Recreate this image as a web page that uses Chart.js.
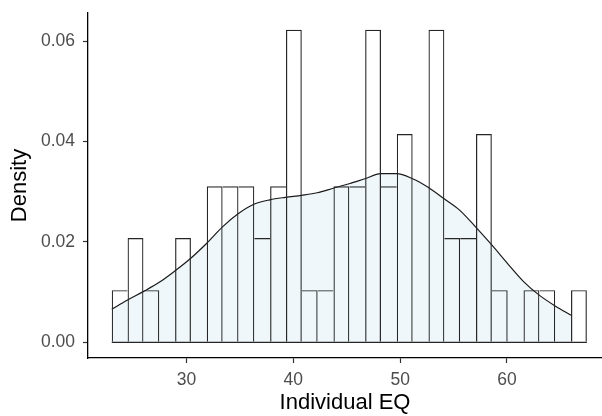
<!DOCTYPE html>
<html>
<head>
<meta charset="utf-8">
<script src="https://cdn.jsdelivr.net/npm/chart.js@4"></script>
<style>
  html, body { margin: 0; padding: 0; background: #fff; }
  #wrap { width: 602px; height: 416px; }
</style>
</head>
<body>
<div id="wrap"><canvas id="hist" width="602" height="416"></canvas></div>
<script>
// ヒストグラム（30ビン）の中心と密度
const binCenters = [23.741, 25.224, 26.707, 28.190, 29.672, 31.155, 32.638, 34.121, 35.603, 37.086,
  38.569, 40.052, 41.534, 43.017, 44.500, 45.983, 47.466, 48.948, 50.431, 51.914,
  53.397, 54.879, 56.362, 57.845, 59.328, 60.810, 62.293, 63.776, 65.259, 66.741];
const barDensity = [0.0104, 0.0208, 0.0104, 0, 0.0208, 0, 0.0311, 0.0311, 0.0311, 0.0208,
  0.0311, 0.0623, 0.0104, 0.0104, 0.0311, 0.0311, 0.0623, 0.0311, 0.0415, 0,
  0.0623, 0.0208, 0.0208, 0.0415, 0.0104, 0, 0.0104, 0.0104, 0, 0.0104];

// 密度曲線
const curveX = [23.0, 24.44, 25.94, 27.41, 28.9, 30.37, 31.87, 33.37, 34.83, 36.3,
  37.8, 39.27, 40.77, 42.23, 43.73, 45.23, 46.7, 48.19, 49.66, 51.16,
  52.62, 54.12, 55.59, 57.06, 58.62, 60.06, 61.56, 63.02, 64.55, 66.0];
const curveY = [0.0066, 0.0084, 0.0101, 0.0119, 0.0142, 0.0167, 0.0197, 0.0230, 0.0256, 0.0275,
  0.0284, 0.0289, 0.0293, 0.0298, 0.0307, 0.0316, 0.0326, 0.0336, 0.0336, 0.0326,
  0.0309, 0.0286, 0.0263, 0.0230, 0.0193, 0.0157, 0.0121, 0.0094, 0.0072, 0.0054];

const binEdges = [23.0, 67.483];
const xTicks = [30, 40, 50, 60];
const yTicks = [0, 0.02, 0.04, 0.06];

const tickColor = "#4d4d4d";
const fontFamily = "'Liberation Sans', Arial, sans-serif";

const ctx = document.getElementById("hist").getContext("2d");

new Chart(ctx, {
  data: {
    datasets: [
      {
        type: "bar",
        data: binCenters.map((x, i) => ({ x, y: barDensity[i] })),
        backgroundColor: "rgba(0,0,0,0)",
        borderColor: "#262626",
        // 隣り合う辺は高い方のビンだけが描く（線が二重にならないように）
        borderWidth: (c) => {
          const i = c.dataIndex;
          const h = barDensity[i];
          const prev = i === 0 ? 0 : barDensity[i - 1];
          const next = i === barDensity.length - 1 ? 0 : barDensity[i + 1];
          return { top: 1.2, bottom: 0, left: prev < h ? 1.2 : 0, right: next <= h ? 1.2 : 0 };
        },
        borderSkipped: false,
        inflateAmount: 0,
        barPercentage: 1,
        categoryPercentage: 1,
        order: 1,
      },
      {
        type: "line",
        data: curveX.map((x, i) => ({ x, y: curveY[i] })),
        borderColor: "#1a1a1a",
        borderWidth: 1.2,
        backgroundColor: "rgba(173,216,230,0.2)",
        fill: "origin",
        pointRadius: 0,
        cubicInterpolationMode: "monotone",
        order: 2,
      },
      {
        // ゼロのビンも含めた底辺
        type: "line",
        data: binEdges.map((x) => ({ x, y: 0 })),
        borderColor: "#262626",
        borderWidth: 1.2,
        pointRadius: 0,
        fill: false,
        order: 0,
      },
    ],
  },
  options: {
    responsive: false,
    animation: false,
    devicePixelRatio: 1,
    layout: { padding: { top: 13, right: 0, bottom: 0, left: 0 } },
    plugins: {
      legend: { display: false },
      tooltip: { enabled: false },
    },
    scales: {
      x: {
        type: "linear",
        offset: false,
        min: 20.776,
        max: 68.9,
        afterBuildTicks: (s) => { s.ticks = xTicks.map((v) => ({ value: v })); },
        afterFit: (s) => {
          s.height = 58;
          s.paddingLeft = 0;
          s.paddingRight = 0;
        },
        grid: { offset: false, drawOnChartArea: false, drawTicks: true, tickLength: 5, tickColor: "#333", tickWidth: 1.2 },
        border: { display: true, color: "#000", width: 1.3 },
        ticks: {
          color: tickColor,
          font: { family: fontFamily, size: 17.5 },
          padding: 7,
          maxRotation: 0,
        },
        title: {
          display: true,
          text: "Individual EQ",
          color: "#000",
          font: { family: fontFamily, size: 22 },
          padding: { top: 0, bottom: 0 },
        },
      },
      y: {
        type: "linear",
        min: -0.003125,
        max: 0.065625,
        afterBuildTicks: (s) => { s.ticks = yTicks.map((v) => ({ value: v })); },
        afterFit: (s) => {
          s.width = 88;
          s.paddingTop = 0;
          s.paddingBottom = 0;
        },
        grid: { drawOnChartArea: false, drawTicks: true, tickLength: 5, tickColor: "#333", tickWidth: 1.2 },
        border: { display: true, color: "#000", width: 1.3 },
        ticks: {
          color: tickColor,
          font: { family: fontFamily, size: 17.5 },
          padding: 8,
          callback: (v) => v.toFixed(2),
        },
        title: {
          display: true,
          text: "Density",
          color: "#000",
          font: { family: fontFamily, size: 22 },
          padding: { top: 7, bottom: 0 },
        },
      },
    },
  },
});
</script>
</body>
</html>
